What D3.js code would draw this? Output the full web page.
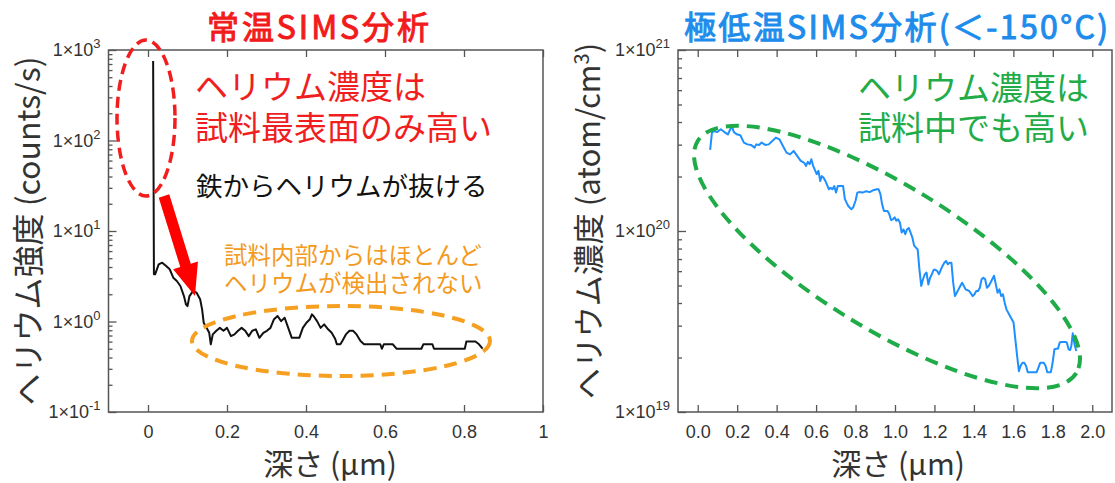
<!DOCTYPE html>
<html><head><meta charset="utf-8">
<script src="https://cdn.jsdelivr.net/npm/d3@7"></script>
<style>body{margin:0;background:#fff}svg{display:block}</style>
</head><body><svg id="c" width="1115" height="483"></svg>
<script>
// ---------- data ----------
const depthA = [0.013,0.015,0.018,0.027,0.036,0.046,0.055,0.064,0.073,0.082,0.091,0.096,0.100,0.105,0.114,0.123,0.132,0.137,0.141,0.146,0.155,0.159,0.164,0.173,0.182,0.191,0.200,0.210,0.219,0.228,0.237,0.246,0.255,0.264,0.273,0.282,0.292,0.301,0.310,0.319,0.328,0.337,0.346,0.355,0.364,0.374,0.383,0.392,0.401,0.410,0.415,0.419,0.428,0.437,0.446,0.456,0.465,0.474,0.478,0.487,0.492,0.501,0.510,0.519,0.528,0.538,0.547,0.588,0.592,0.597,0.620,0.629,0.692,0.697,0.720,0.724,0.802,0.806,0.829,0.838,0.847];
const countsA = [756,3.32,3.32,4.28,4.47,4.10,3.77,3.05,2.80,2.47,1.91,1.55,1.48,1.91,2.17,2.08,1.76,1.36,0.97,0.89,0.75,0.56,0.72,0.79,0.85,0.79,0.85,0.69,0.72,0.79,0.85,0.79,0.69,0.79,0.82,0.66,0.75,0.79,0.85,1.06,1.15,1.01,1.10,0.85,0.66,0.66,0.66,0.85,0.97,1.06,1.20,1.15,1.01,0.85,0.93,0.82,0.75,0.64,0.56,0.56,0.61,0.72,0.79,0.79,0.72,0.61,0.56,0.56,0.50,0.56,0.56,0.50,0.50,0.56,0.56,0.50,0.50,0.60,0.60,0.56,0.50];

const depthB = [0.063,0.072,0.081,0.099,0.117,0.135,0.153,0.165,0.174,0.183,0.198,0.216,0.234,0.252,0.270,0.288,0.297,0.311,0.324,0.342,0.360,0.378,0.396,0.414,0.432,0.450,0.468,0.486,0.504,0.522,0.540,0.549,0.558,0.567,0.576,0.585,0.603,0.612,0.621,0.629,0.638,0.647,0.665,0.674,0.683,0.692,0.701,0.710,0.728,0.737,0.746,0.755,0.764,0.779,0.788,0.800,0.809,0.818,0.836,0.854,0.872,0.890,0.908,0.917,0.926,0.935,0.944,0.962,0.971,0.980,0.989,0.998,1.007,1.016,1.025,1.034,1.043,1.052,1.061,1.070,1.079,1.088,1.097,1.106,1.115,1.124,1.133,1.142,1.151,1.160,1.169,1.178,1.187,1.196,1.205,1.214,1.223,1.232,1.241,1.250,1.259,1.268,1.277,1.286,1.295,1.304,1.313,1.322,1.331,1.340,1.349,1.358,1.376,1.394,1.403,1.412,1.421,1.430,1.439,1.448,1.457,1.466,1.475,1.484,1.493,1.502,1.511,1.520,1.529,1.538,1.547,1.556,1.565,1.583,1.601,1.610,1.619,1.628,1.637,1.646,1.655,1.664,1.673,1.718,1.727,1.736,1.754,1.763,1.772,1.790,1.799,1.808,1.826,1.835,1.844,1.862,1.871,1.880,1.888,1.894,1.901,1.910,1.919];
const concB = [2.81e20,3.49e20,3.57e20,3.52e20,3.65e20,3.52e20,3.42e20,3.65e20,3.77e20,3.52e20,3.42e20,3.38e20,3.08e20,3.01e20,2.99e20,2.89e20,3.01e20,2.99e20,3.08e20,2.99e20,3.01e20,3.14e20,3.28e20,3.21e20,2.95e20,2.71e20,2.65e20,2.77e20,2.60e20,2.44e20,2.38e20,2.29e20,2.41e20,2.34e20,2.49e20,2.29e20,2.06e20,2.15e20,1.89e20,2.01e20,1.97e20,1.89e20,1.70e20,1.73e20,1.70e20,1.77e20,1.63e20,1.77e20,1.77e20,1.77e20,1.50e20,1.43e20,1.37e20,1.32e20,1.35e20,1.47e20,1.63e20,1.64e20,1.63e20,1.66e20,1.64e20,1.68e20,1.70e20,1.70e20,1.60e20,1.40e20,1.29e20,1.29e20,1.24e20,1.15e20,1.16e20,1.19e20,1.14e20,1.16e20,1.11e20,9.8e19,1.02e20,9.6e19,1.02e20,1.04e20,9.8e19,9.2e19,8.3e19,8.1e19,7.9e19,6.1e19,4.97e19,5.41e19,5.77e19,5.89e19,5.07e19,5.52e19,5.77e19,6.1e19,6.1e19,6.01e19,5.77e19,6.1e19,6.41e19,6.68e19,6.83e19,6.55e19,6.68e19,6.68e19,5.18e19,4.37e19,4.56e19,4.76e19,4.97e19,5.18e19,4.97e19,4.76e19,4.66e19,4.37e19,4.47e19,4.66e19,4.66e19,4.86e19,5.41e19,5.52e19,5.41e19,4.86e19,4.97e19,5.18e19,5.41e19,5.66e19,5.07e19,4.56e19,4.76e19,4.37e19,4.47e19,4.02e19,3.69e19,3.39e19,3.12e19,2.52e19,2.04e19,1.68e19,1.80e19,1.87e19,1.87e19,1.80e19,1.66e19,1.66e19,1.76e19,1.87e19,1.87e19,1.80e19,1.66e19,1.66e19,1.87e19,2.22e19,2.24e19,2.42e19,2.44e19,2.44e19,2.42e19,2.22e19,2.20e19,2.32e19,2.72e19,2.37e19,2.17e19];

const xTicksA = [0,0.2,0.4,0.6,0.8,1];
const xLabelsA = ["0","0.2","0.4","0.6","0.8","1"];
const yTicksA = [0.1,1,10,100,1000];
const yExpA = ["-1","0","1","2","3"];
const xTicksB = [0,0.2,0.4,0.6,0.8,1.0,1.2,1.4,1.6,1.8,2.0];
const xLabelsB = ["0.0","0.2","0.4","0.6","0.8","1.0","1.2","1.4","1.6","1.8","2.0"];
const yTicksB = [1e19,1e20,1e21];
const yExpB = ["19","20","21"];

// ---------- drawing ----------
const svg = d3.select("#c");
const JP = "'Noto Sans CJK JP','Noto Sans',sans-serif";
const LAT = "'Liberation Sans',Arial,sans-serif";
const TOP = 50, BOT = 412;

const xA = d3.scaleLinear().domain([-0.1,1]).range([108.5,543]);
const yA = d3.scaleLog().domain([0.1,1000]).range([BOT,TOP]);
const xB = d3.scaleLinear().domain([-0.1,2.1]).range([678,1112]);
const yB = d3.scaleLog().domain([1e19,1e21]).range([BOT,TOP]);

function panel(x, y, xTicks, xLabels, yTicks, yExp) {
  const g = svg.append("g");
  const [x0,x1] = x.range();
  g.append("rect").attr("x",x0).attr("y",TOP).attr("width",x1-x0).attr("height",BOT-TOP)
    .attr("fill","none").attr("stroke","#555").attr("stroke-width",1.5);
  const bx = g.append("g").attr("transform",`translate(0,${BOT})`)
    .call(d3.axisBottom(x).tickValues(xTicks).tickFormat((d,i)=>xLabels[i]).tickSizeInner(-7).tickSizeOuter(0).tickPadding(13));
  const tx = g.append("g").attr("transform",`translate(0,${TOP})`)
    .call(d3.axisTop(x).tickValues(xTicks).tickFormat("").tickSizeInner(-7).tickSizeOuter(0));
  const minor = y.ticks().filter(v => !yTicks.some(t => Math.abs(Math.log10(t)-Math.log10(v))<1e-6));
  const ly = g.append("g").attr("transform",`translate(${x0},0)`)
    .call(d3.axisLeft(y).tickValues(yTicks).tickFormat("").tickSizeInner(-8).tickSizeOuter(0));
  const lm = g.append("g").attr("transform",`translate(${x0},0)`)
    .call(d3.axisLeft(y).tickValues(minor).tickFormat("").tickSizeInner(-4).tickSizeOuter(0));
  [bx,tx,ly,lm].forEach(a => { a.select(".domain").remove(); a.selectAll("line").attr("stroke","#555").attr("stroke-width",1.3); });
  bx.selectAll("text").attr("font-family",LAT).attr("font-size",18).attr("fill","#333");
  const lab = g.append("g").attr("font-family",LAT).attr("fill","#333");
  yTicks.forEach((v,i) => {
    const t = lab.append("text").attr("x",x0-8).attr("y",y(v)+6).attr("text-anchor","end").attr("font-size",18);
    t.append("tspan").text("1×10");
    t.append("tspan").attr("dy",-8).attr("font-size",13).text(yExp[i]);
  });
  return g;
}

panel(xA, yA, xTicksA, xLabelsA, yTicksA, yExpA);
panel(xB, yB, xTicksB, xLabelsB, yTicksB, yExpB);

// lines
const lineA = d3.line().x(d=>xA(d[0])).y(d=>yA(d[1]));
svg.append("path").datum(depthA.map((d,i)=>[d,countsA[i]]))
  .attr("d",lineA).attr("fill","none").attr("stroke","#111").attr("stroke-width",2).attr("stroke-linejoin","round");
const lineB = d3.line().x(d=>xB(d[0])).y(d=>yB(d[1]));
svg.append("path").datum(depthB.map((d,i)=>[d,concB[i]]))
  .attr("d",lineB).attr("fill","none").attr("stroke","#1e8fff").attr("stroke-width",2).attr("stroke-linejoin","round");

// titles
svg.append("text").attr("x",318).attr("y",39).attr("text-anchor","middle").attr("font-family",JP)
  .attr("font-weight","normal").attr("font-size",32).attr("fill","#f21b1b")
  .attr("stroke","#f21b1b").attr("stroke-width",1)
  .attr("textLength",222).attr("lengthAdjust","spacing").text("常温SIMS分析");
svg.append("text").attr("x",896).attr("y",39).attr("text-anchor","middle").attr("font-family",JP)
  .attr("font-weight","normal").attr("font-size",32).attr("fill","#1e8ceb")
  .attr("stroke","#1e8ceb").attr("stroke-width",1)
  .attr("textLength",424).attr("lengthAdjust","spacing").text("極低温SIMS分析(＜-150°C)");

// axis titles
function xTitle(cx){ svg.append("text").attr("x",cx).attr("y",475).attr("text-anchor","middle")
  .attr("font-family",JP).attr("font-size",30).attr("fill","#333").text("深さ (µm)"); }
xTitle(330); xTitle(898);
svg.append("text").attr("transform",`translate(40,231) rotate(-90)`)
  .attr("text-anchor","middle").attr("font-family",JP).attr("font-size",32).attr("fill","#333")
  .text("ヘリウム強度 (counts/s)");
const t2 = svg.append("text").attr("transform",`translate(600,221) rotate(-90)`)
  .attr("text-anchor","middle").attr("font-family",JP).attr("font-size",31).attr("fill","#333");
t2.append("tspan").text("ヘリウム濃度 (atom/cm");
t2.append("tspan").attr("dy",-11).attr("font-size",20).text("3");
t2.append("tspan").attr("dy",11).text(")");

// annotations left
svg.append("ellipse").attr("cx",146).attr("cy",118).attr("rx",29).attr("ry",78)
  .attr("fill","none").attr("stroke","#f01e1e").attr("stroke-width",3.5).attr("stroke-dasharray","11,6");
const red = svg.append("g").attr("font-family",JP).attr("font-size",33).attr("fill","#f01e1e");
red.append("text").attr("x",195).attr("y",99).text("ヘリウム濃度は");
red.append("text").attr("x",195).attr("y",140).text("試料最表面のみ高い");
svg.append("text").attr("x",196).attr("y",196).attr("font-family",JP).attr("font-size",26.5).attr("fill","#111").text("鉄からヘリウムが抜ける");
const org = svg.append("g").attr("font-family",JP).attr("font-size",23.5).attr("fill","#f39a1e");
org.append("text").attr("x",224).attr("y",264).text("試料内部からはほとんど");
org.append("text").attr("x",224).attr("y",292).text("ヘリウムが検出されない");
svg.append("ellipse").attr("cx",341).attr("cy",341).attr("rx",149).attr("ry",35)
  .attr("fill","none").attr("stroke","#f5a021").attr("stroke-width",4).attr("stroke-dasharray","13,8");

// arrow
(function(){
  const tail=[164,196], tip=[195,296];
  const dx=tip[0]-tail[0], dy=tip[1]-tail[1], L=Math.hypot(dx,dy);
  const ux=dx/L, uy=dy/L, nx=-uy, ny=ux;
  const hl=32, hw=13, sw=5.5;
  const bx=tip[0]-ux*hl, by=tip[1]-uy*hl;
  const pts=[[tail[0]+nx*sw,tail[1]+ny*sw],[bx+nx*sw,by+ny*sw],[bx+nx*hw,by+ny*hw],tip,
    [bx-nx*hw,by-ny*hw],[bx-nx*sw,by-ny*sw],[tail[0]-nx*sw,tail[1]-ny*sw]];
  svg.append("polygon").attr("points",pts.map(p=>p.join(",")).join(" ")).attr("fill","#ff0000");
})();

// annotations right
const grn = svg.append("g").attr("font-family",JP).attr("font-size",33).attr("fill","#22ac48").attr("text-anchor","end");
grn.append("text").attr("x",1089).attr("y",100).text("ヘリウム濃度は");
grn.append("text").attr("x",1089).attr("y",140).text("試料中でも高い");
svg.append("ellipse").attr("transform","translate(887,257) rotate(31.5)").attr("rx",222).attr("ry",72)
  .attr("fill","none").attr("stroke","#1fab48").attr("stroke-width",4).attr("stroke-dasharray","13,8");
</script></body></html>
